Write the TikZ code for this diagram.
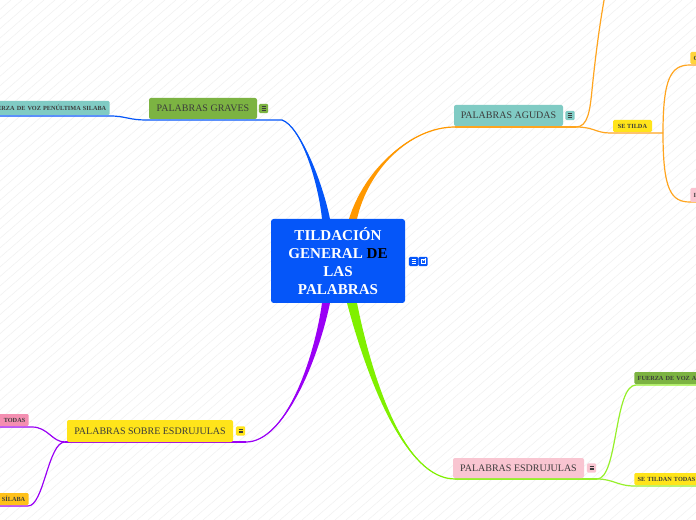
\documentclass[tikz,border=0pt]{standalone}
\usepackage{fontspec}
\setmainfont{Liberation Serif}
\usetikzlibrary{calc}
\definecolor{cblue}{HTML}{0556F9}
\definecolor{corange}{HTML}{FF9800}
\definecolor{corthin}{HTML}{FFA51F}
\definecolor{clime}{HTML}{80F000}
\definecolor{climethin}{HTML}{96F02A}
\definecolor{cpurple}{HTML}{9A00F5}
\definecolor{cgreen}{HTML}{7CB342}
\definecolor{cteal}{HTML}{80CBC4}
\definecolor{cyellow}{HTML}{FFE41A}
\definecolor{cpinkl}{HTML}{F9C5D1}
\definecolor{cpink}{HTML}{F48FB1}
\definecolor{camber}{HTML}{FFC11A}
\definecolor{cgold}{HTML}{FFD43B}
\definecolor{ctext}{HTML}{3C3C3C}
\definecolor{cstripe}{HTML}{F1F1F1}
\tikzset{
  mainlbl/.style={rounded corners=1.5pt, inner sep=0pt, text=ctext,
    font=\fontsize{7.5}{8}\selectfont},
  smalllbl/.style={rounded corners=1pt, inner xsep=2.6pt, inner ysep=0pt,
    minimum height=9pt, text=ctext, font=\bfseries\fontsize{4.7}{5}\selectfont},
  iconbox/.style={rounded corners=0.8pt, minimum width=6.8pt, minimum height=6.8pt, inner sep=0pt,
    path picture={\foreach \k in {-1,0,1}
      \draw[line width=0.45pt, draw=#1] ([xshift=-1.5pt,yshift=\k*1.3pt]path picture bounding box.center) -- ++(3pt,0);}},
  thin/.style={line width=0.9pt}
}
\newcommand{\taper}[6]{% color, start, c1, c2, end, halfwidth(px)
  \fill[#1] (#2) .. controls (#3) and ($(#4)+(-#6/2,0)$) .. ($(#5)+(-#6,0)$)
    -- ($(#5)+(#6,0)$) .. controls ($(#4)+(#6/2,0)$) and (#3) .. (#2) -- cycle;
  \draw[#1, thin] (#2) .. controls (#3) and (#4) .. (#5);}
\begin{document}
\begin{tikzpicture}[x=0.75pt,y=-0.75pt]
\useasboundingbox (0,0) rectangle (696,520);
\fill[white] (0,0) rectangle (696,520);
\begin{scope}
\clip (0,0) rectangle (696,520);
\foreach \i in {-600,-589,...,700} \draw[cstripe, line width=0.4pt] (\i,520) -- ({\i+600},0);
\end{scope}

% ---------- coordinates ----------
\coordinate (bTop) at (326,219);
\coordinate (oTop) at (353,219);
\coordinate (pBot) at (326,303);
\coordinate (gBot) at (352,303);
\coordinate (gr1) at (282,120);
\coordinate (gr0) at (147,120);
\coordinate (fp1) at (110,116);
\coordinate (fp0) at (-5,116);
\coordinate (ag1) at (455,127);
\coordinate (ag2) at (576,127);
\coordinate (topEnd) at (606,-10);
\coordinate (st0) at (610,133);
\coordinate (st1) at (663,133);
\coordinate (cb0) at (690,65);
\coordinate (cb1) at (700,65);
\coordinate (ib0) at (690,202);
\coordinate (ib1) at (700,202);
\coordinate (es1) at (455,479);
\coordinate (es2) at (597,479);
\coordinate (fv0) at (636,385);
\coordinate (fv1) at (700,385);
\coordinate (sd0) at (634,486);
\coordinate (sd1) at (700,486);
\coordinate (so1) at (246,442);
\coordinate (so2) at (65,442);
\coordinate (td0) at (32,427);
\coordinate (td1) at (-5,427);
\coordinate (sl0) at (28,506);
\coordinate (sl1) at (-5,506);

% ---------- connectors ----------
% blue: graves
\taper{cblue}{gr1}{300,126}{320,180}{bTop}{4}
\draw[cblue, thin] (gr1) -- (gr0) .. controls (128,120) and (126,116) .. (fp1) -- (fp0);
% orange: agudas
\taper{corange}{ag1}{410,127}{366,170}{oTop}{4}
\draw[corthin, thin] (ag1) -- (ag2);
\draw[corthin, thin] (ag2) .. controls (588,127) and (590,110) .. (592,90) .. controls (595,60) and (600,20) .. (topEnd);
\draw[corthin, thin] (ag2) .. controls (594,127) and (596,133) .. (st0) -- (st1);
\draw[corthin, thin] (st1) .. controls (663,78) and (671,65) .. (cb0) -- (cb1);
\draw[corthin, thin] (st1) .. controls (663,190) and (671,202) .. (ib0) -- (ib1);
% green: esdrujulas
\taper{clime}{es1}{405,479}{370,380}{gBot}{5}
\draw[climethin, thin] (es1) -- (es2);
\draw[climethin, thin] (es2) .. controls (618,479) and (614,385) .. (fv0) -- (fv1);
\draw[climethin, thin] (es2) .. controls (613,479) and (618,486) .. (sd0) -- (sd1);
% purple: sobre esdrujulas
\taper{cpurple}{so1}{285,442}{316,360}{pBot}{4}
\draw[cpurple, thin] (so1) -- (so2);
\draw[cpurple, thin] (so2) .. controls (52,442) and (48,427) .. (td0) -- (td1);
\draw[cpurple, thin] (so2) .. controls (48,442) and (44,506) .. (sl0) -- (sl1);

% ---------- nodes ----------
\node[fill=cblue, rounded corners=2pt, minimum width=100.5pt, minimum height=63pt, inner sep=0pt,
  text=white, align=center, font=\bfseries\fontsize{11.3}{13.5}\selectfont]
  (center) at (338,261) {TILDACIÓN\\GENERAL \textcolor{black}{DE}\\LAS\\PALABRAS};
\node[iconbox=white, fill=cblue] (ci1) at (413.5,261.5) {};
\node[fill=cblue, rounded corners=0.8pt, minimum width=6.8pt, minimum height=6.8pt, inner sep=0pt] (ci2) at (423,261.5) {};
\draw[white, line width=0.4pt] ($(ci2.center)+(-1.6pt,-1.2pt)$) rectangle ($(ci2.center)+(1.6pt,1.6pt)$);
\draw[white, line width=0.5pt] ($(ci2.center)+(-0.2pt,0.2pt)$) -- ($(ci2.center)+(2.2pt,2.4pt)$);

\node[mainlbl, fill=cgreen, minimum width=81pt, minimum height=15.75pt] (graves) at (203,108.5) {PALABRAS GRAVES};
\node[iconbox=ctext, fill=cgreen] (gicon) at (263.5,108.5) {};
\node[smalllbl, fill=cteal, text width=100pt, align=right, minimum height=10.5pt, anchor=east] (fpen) at (110,108) {FUERZA DE VOZ PENÚLTIMA SILABA};

\node[mainlbl, fill=cteal, minimum width=81.75pt, minimum height=15.75pt] (agudas) at (508.5,115.5) {PALABRAS AGUDAS};
\node[iconbox=ctext, fill=cteal] (aicon) at (570,115.5) {};
\node[smalllbl, fill=cyellow, minimum width=29.25pt] (setilda) at (632.5,126) {SE TILDA};
\node[smalllbl, fill=cgold, text width=60pt, align=left, anchor=west] (cbox) at (690,58) {C};
\node[smalllbl, fill=cpinkl, text width=60pt, align=left, minimum height=10.5pt, anchor=west] (ibox) at (690,195) {I};

\node[mainlbl, fill=cpinkl, minimum width=98.25pt, minimum height=15pt] (esdr) at (518.5,468) {PALABRAS ESDRUJULAS};
\node[iconbox=ctext, fill=cpinkl] (eicon) at (591.5,468) {};
\node[smalllbl, fill=cgreen, text width=80pt, align=left, anchor=west] (fvoza) at (634,378) {FUERZA DE VOZ A};
\node[smalllbl, fill=cyellow, text width=80pt, align=left, anchor=west] (setildan) at (634,479) {SE TILDAN TODAS};

\node[mainlbl, fill=cyellow, minimum width=124.5pt, minimum height=16.5pt] (sobre) at (150,431) {PALABRAS SOBRE ESDRUJULAS};
\node[iconbox=ctext, fill=cyellow] (sicon) at (240.5,431) {};
\node[smalllbl, fill=cpink, text width=40pt, align=right, anchor=east] (todas) at (29,420) {TODAS};
\node[smalllbl, fill=camber, text width=40pt, align=right, anchor=east] (silaba) at (29,499) {SÍLABA};
\end{tikzpicture}
\end{document}
